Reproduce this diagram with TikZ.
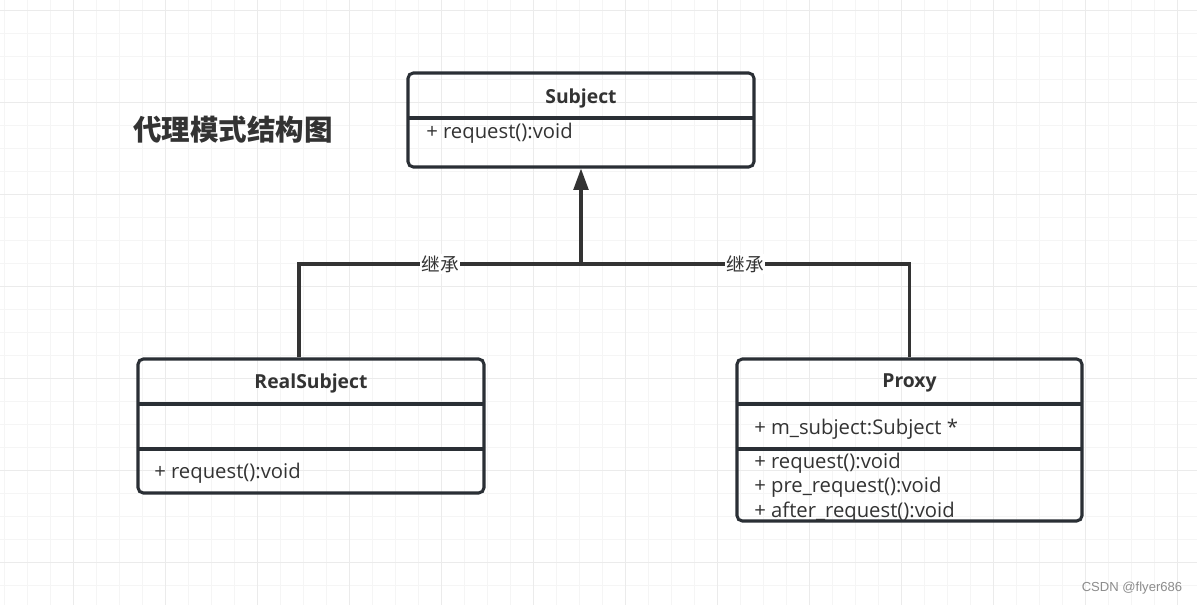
\documentclass[tikz,border=0pt]{standalone}
\usepackage{fontspec}
\setmainfont{Open Sans}
\newfontfamily\cjk{Noto Sans CJK SC}
\newfontfamily\marksans{Liberation Sans}
\usetikzlibrary{arrows.meta,positioning,fit}

\definecolor{boxline}{HTML}{2A2F35}
\definecolor{inkgray}{HTML}{333333}
\definecolor{gridminor}{HTML}{F5F5F5}
\definecolor{gridmajor}{HTML}{EBEBEB}
\definecolor{markgray}{HTML}{8C8C8C}

\tikzset{
  classbox/.style={draw=boxline, line width=2.3pt, rounded corners=4pt, inner sep=0pt},
  divider/.style={draw=boxline, line width=2.3pt},
  classname/.style={font=\bfseries\fontsize{14.5}{17}\selectfont, text=inkgray},
  member/.style={anchor=west, inner sep=0pt, font=\fontsize{15.2}{18}\selectfont, text=inkgray},
  inherit/.style={draw=inkgray, line width=2.4pt},
  inheritlabel/.style={fill=white, inner sep=1pt, font=\cjk\fontsize{14}{16}\selectfont, text=inkgray},
}

\begin{document}
\begin{tikzpicture}[x=0.75pt, y=-0.75pt]
  \useasboundingbox (0,0) rectangle (1197,605);
  \fill[white] (0,0) rectangle (1197,605);

  % grid
  \foreach \gx in {4,27,...,1197}
    \draw[gridminor, line width=0.75pt] (\gx,0) -- (\gx,605);
  \foreach \gy in {11,34,...,605}
    \draw[gridminor, line width=0.75pt] (0,\gy) -- (1197,\gy);
  \foreach \gx in {73,165,...,1197}
    \draw[gridmajor, line width=0.75pt] (\gx,0) -- (\gx,605);
  \foreach \gy in {11,103,...,605}
    \draw[gridmajor, line width=0.75pt] (0,\gy) -- (1197,\gy);

  % title
  \node[font=\cjk\bfseries\fontsize{21.4}{24}\selectfont, text=inkgray] (title) at (233,130) {代理模式结构图};

  % Subject
  \node[classbox, fit={(408,73) (754,167)}] (subject) {};
  \draw[divider] (408,118) -- (754,118);
  \node[classname] (subjectname) at (581,98) {Subject};
  \node[member] (subjectreq) at (426,133) {+ request():void};

  % RealSubject
  \node[classbox, fit={(138,359) (484,493)}] (realsubject) {};
  \draw[divider] (138,404) -- (484,404);
  \draw[divider] (138,449) -- (484,449);
  \node[classname] (realname) at (311,383) {RealSubject};
  \node[member] (realreq) at (154,473) {+ request():void};

  % Proxy
  \node[classbox, fit={(737,359) (1082,521)}] (proxy) {};
  \draw[divider] (737,404) -- (1082,404);
  \draw[divider] (737,449) -- (1082,449);
  \node[classname] (proxyname) at (909.5,383) {Proxy};
  \node[member] (proxyattr) at (754,429) {+ m\_subject:Subject *};
  \node[member] (proxyreq) at (754,463) {+ request():void};
  \node[member] (proxypre) at (754,487) {+ pre\_request():void};
  \node[member] (proxyafter) at (754,512) {+ after\_request():void};

  % inheritance
  \coordinate (hub) at (subject.south |- 0,264);
  \coordinate (realbend) at (299,264);
  \coordinate (proxybend) at (proxy.north |- hub);
  \draw[inherit] (realsubject.north -| realbend) -- (realbend) -- node[inheritlabel] (reallabel) {继承} (hub);
  \draw[inherit] (proxy.north) -- (proxybend) -- node[inheritlabel] (proxylabel) {继承} (hub);
  \draw[inherit, -{Triangle[length=16pt,width=11pt]}] (hub) -- (subject.south);

  \node[font=\marksans\fontsize{9.8}{11}\selectfont, text=markgray] (mark) at (1132,588) {CSDN @flyer686};
\end{tikzpicture}
\end{document}
